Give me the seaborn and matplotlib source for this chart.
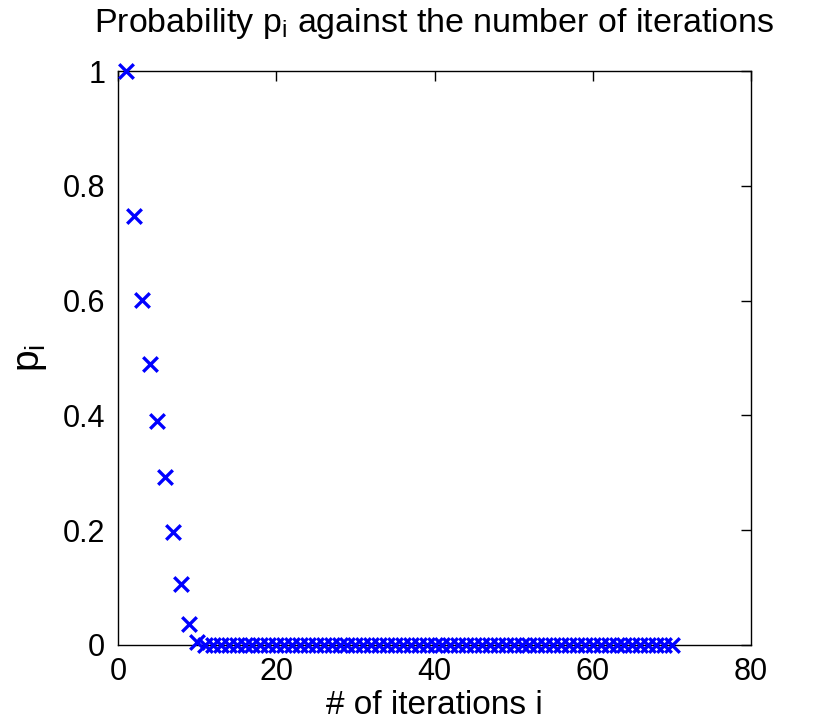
import matplotlib
matplotlib.use("Agg")
import matplotlib.pyplot as plt
import numpy as np
import pandas as pd
import seaborn as sns

# values
iterations = list(range(1, 71))
p_head = [1.0, 0.747, 0.601, 0.490, 0.390, 0.293, 0.197, 0.106, 0.037, 0.005]
p_values = p_head + [0.0] * (len(iterations) - len(p_head))

x_ticks = [0, 20, 40, 60, 80]
y_ticks = [0, 0.2, 0.4, 0.6, 0.8, 1]
y_tick_labels = ["0", "0.2", "0.4", "0.6", "0.8", "1"]

sns.set_style("white")
plt.rcParams["font.family"] = ["Liberation Sans", "DejaVu Sans"]
plt.rcParams["mathtext.fontset"] = "custom"
plt.rcParams["mathtext.rm"] = "Liberation Sans"
plt.rcParams["mathtext.it"] = "Liberation Sans"
plt.rcParams["text.color"] = "black"
plt.rcParams["axes.labelcolor"] = "black"

df = pd.DataFrame({"i": iterations, "p": p_values})

fig = plt.figure(figsize=(8.3, 7.27), dpi=100)
ax = fig.add_axes([0.142, 0.113, 0.763, 0.789])

sns.scatterplot(data=df, x="i", y="p", marker="x", color="#0000ff",
                s=110, linewidth=2.4, ax=ax, legend=False, zorder=3)
for c in ax.collections:
    c.set_clip_on(False)

ax.set_xlim(0, 80)
ax.set_ylim(0, 1)
ax.set_xticks(x_ticks)
ax.set_yticks(y_ticks)
ax.set_yticklabels(y_tick_labels)
ax.tick_params(direction="in", length=7, width=1, labelsize=22,
               top=True, right=True, pad=9, colors="black")
for s in ax.spines.values():
    s.set_visible(True)
    s.set_color("black")
    s.set_linewidth(1)

ax.set_title(r"Probability $\mathregular{p_i}$ against the number of iterations",
             fontsize=24.5, pad=28)
ax.set_xlabel("# of iterations i", fontsize=24, labelpad=2)
ax.set_ylabel(r"$\mathregular{p_i}$", fontsize=28, labelpad=10)

fig.savefig("out.png", dpi=100)
